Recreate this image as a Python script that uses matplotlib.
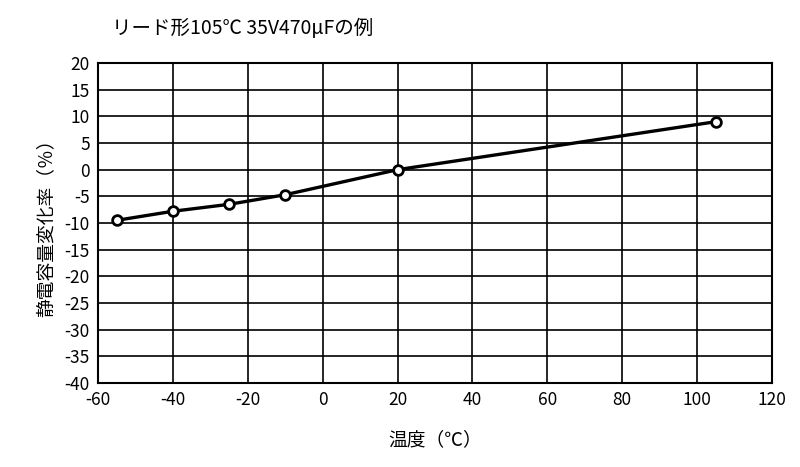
import matplotlib
matplotlib.use("Agg")
import matplotlib.pyplot as plt

plt.rcParams['font.family'] = ['Noto Sans CJK JP', 'DejaVu Sans']
plt.rcParams['axes.unicode_minus'] = False

temps = [-55, -40, -25, -10, 20, 105]
change = [-9.5, -7.8, -6.5, -4.7, 0.0, 9.0]

fig = plt.figure(figsize=(8, 4.67), dpi=100)
ax = fig.add_axes([0.1225, 0.18, 0.8425, 0.685])

ax.plot(temps, change, color='black', lw=2.4, marker='o', ms=7,
        mfc='white', mec='black', mew=2, zorder=3)

ax.set_xlim(-60, 120)
ax.set_ylim(-40, 20)
ax.set_xticks(range(-60, 121, 20))
ax.set_yticks(range(-40, 21, 5))
ax.grid(True, color='black', lw=1.2)
for s in ax.spines.values():
    s.set_linewidth(1.5)
ax.tick_params(length=0, labelsize=12.5, pad=6)

ax.set_xlabel('温度（℃）', fontsize=13.5, labelpad=14)
ax.set_ylabel('静電容量変化率（％）', fontsize=13.5, labelpad=6)
fig.text(0.14, 0.94, 'リード形105℃ 35V470μFの例', fontsize=14, va='center')

fig.savefig('out.png', dpi=100)
